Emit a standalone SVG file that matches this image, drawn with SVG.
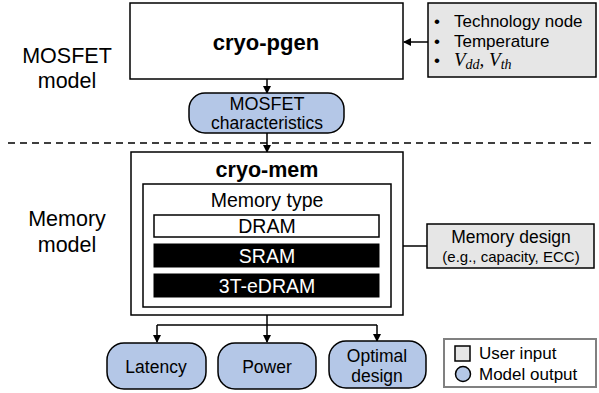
<svg xmlns="http://www.w3.org/2000/svg" width="599" height="393" viewBox="0 0 599 393">
<defs>
<marker id="ah" markerWidth="8" markerHeight="8" refX="7" refY="4" orient="auto" markerUnits="userSpaceOnUse">
<path d="M0,0 L8,4 L0,8 Z" fill="#000"/>
</marker>
<style>
text{font-family:"Liberation Sans",Arial,sans-serif;fill:#000}
.box{fill:#fff;stroke:#000;stroke-width:1.5}
.in{fill:#e6e6e6;stroke:#000;stroke-width:1.5}
.out{fill:#b4c7e7;stroke:#000;stroke-width:1.5}
.blk{fill:#000;stroke:#000;stroke-width:1}
.c{text-anchor:middle}
.ln{fill:none;stroke:#000;stroke-width:1.5}
</style>
</defs>
<rect width="599" height="393" fill="#fff"/>
<g id="labels">
<text x="67" y="63" class="c" font-size="21.5">MOSFET</text>
<text x="67" y="88" class="c" font-size="21.5">model</text>
<text x="67" y="226" class="c" font-size="21.5">Memory</text>
<text x="67" y="252" class="c" font-size="21.5">model</text>
</g>
<line x1="8" y1="143" x2="596" y2="143" stroke="#000" stroke-width="1.3" stroke-dasharray="7,5"/>
<g id="connectors">
<line class="ln" x1="428" y1="42" x2="404" y2="42" marker-end="url(#ah)"/>
<line class="ln" x1="267" y1="79" x2="267" y2="93" marker-end="url(#ah)"/>
<line class="ln" x1="267" y1="133" x2="267" y2="152" marker-end="url(#ah)"/>
<line class="ln" x1="427" y1="246" x2="392" y2="246" marker-end="url(#ah)"/>
<path class="ln" d="M267,307 V342" marker-end="url(#ah)"/>
<path class="ln" d="M157,325 H377"/>
<path class="ln" d="M157,325 V342" marker-end="url(#ah)"/>
<path class="ln" d="M377,325 V341" marker-end="url(#ah)"/>
</g>
<g id="cryo-pgen">
<rect class="box" x="130" y="3" width="273" height="76"/>
<text x="266" y="50" class="c" font-size="22" font-weight="bold">cryo-pgen</text>
</g>
<g id="mosfet-inputs">
<rect class="in" x="428" y="3" width="168" height="74"/>
<text x="434" y="27" font-size="17">•<tspan x="454">Technology node</tspan></text>
<text x="434" y="47" font-size="17">•<tspan x="454">Temperature</tspan></text>
<text x="434" y="66" font-size="17">•<tspan x="454" font-family="'Liberation Serif',serif" font-style="italic" font-size="19">V<tspan font-size="14" dy="3">dd</tspan><tspan dy="-3">, V</tspan><tspan font-size="14" dy="3">th</tspan></tspan></text>
</g>
<g id="mosfet-char">
<rect class="out" x="189" y="93" width="155" height="40" rx="16"/>
<text x="267" y="110" class="c" font-size="18">MOSFET</text>
<text x="267" y="129" class="c" font-size="17.5">characteristics</text>
</g>
<g id="cryo-mem">
<rect class="box" x="131" y="152" width="272" height="163"/>
<text x="267" y="177" class="c" font-size="21.5" font-weight="bold">cryo-mem</text>
<rect class="box" x="143" y="184" width="248" height="123"/>
<text x="267" y="207" class="c" font-size="19.5">Memory type</text>
<rect class="box" x="154" y="215" width="225" height="22"/>
<text x="267" y="233" class="c" font-size="19.5">DRAM</text>
<rect class="blk" x="154" y="244" width="225" height="23"/>
<text x="267" y="263" class="c" font-size="19.5" style="fill:#fff">SRAM</text>
<rect class="blk" x="154" y="274" width="225" height="23"/>
<text x="267" y="293" class="c" font-size="19.5" style="fill:#fff">3T-eDRAM</text>
</g>
<g id="memory-design">
<rect class="in" x="427" y="224" width="167" height="44"/>
<text x="511" y="243" class="c" font-size="17.5">Memory design</text>
<text x="511" y="262" class="c" font-size="15">(e.g., capacity, ECC)</text>
</g>
<g id="latency">
<rect class="out" x="107" y="343" width="99" height="46" rx="17"/>
<text x="156" y="373" class="c" font-size="17.5">Latency</text>
</g>
<g id="power">
<rect class="out" x="218" y="343" width="98" height="46" rx="17"/>
<text x="267" y="373" class="c" font-size="17.5">Power</text>
</g>
<g id="optimal-design">
<rect class="out" x="329" y="341" width="97" height="47" rx="17"/>
<text x="377" y="362" class="c" font-size="17.5">Optimal</text>
<text x="377" y="382" class="c" font-size="17.5">design</text>
</g>
<g id="legend">
<rect x="444" y="339" width="152" height="48" fill="#fff" stroke="#808080" stroke-width="2"/>
<rect x="455" y="346" width="15" height="15" class="in"/>
<text x="479" y="359" font-size="17">User input</text>
<circle cx="463" cy="374" r="7.5" class="out"/>
<text x="479" y="380" font-size="17">Model output</text>
</g>
</svg>
